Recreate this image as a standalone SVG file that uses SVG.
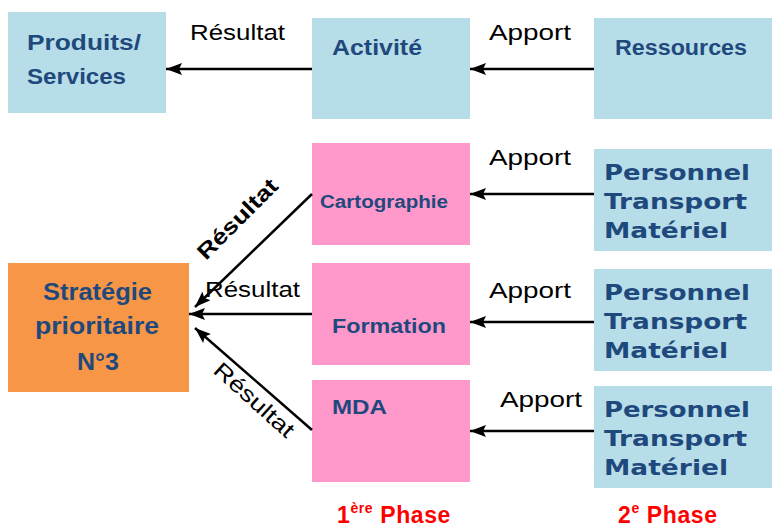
<svg xmlns="http://www.w3.org/2000/svg" width="772" height="528" viewBox="0 0 772 528">
<defs>
<marker id="a" viewBox="0 0 16 12" refX="16" refY="6" markerWidth="16" markerHeight="12" markerUnits="userSpaceOnUse" orient="auto">
<path d="M0,0 L16,6 L0,12 L3,6 z" fill="#000"/>
</marker>
</defs>
<style>
.blue{fill:#B7DDE8}
.pink{fill:#FF99CC}
.orange{fill:#F79646}
.t{font-family:"Liberation Sans",Arial,sans-serif;font-weight:bold;fill:#1F497D}
.v{font-family:"DejaVu Sans",Verdana,sans-serif;font-weight:bold;fill:#1F497D;font-size:21px}
.lbl{font-family:"Liberation Sans",Arial,sans-serif;font-size:22px;fill:#000}
.ph{font-family:"Liberation Sans",Arial,sans-serif;font-weight:bold;font-size:23px;fill:#FF0000;letter-spacing:0.6px}
.c{stroke:#000;stroke-width:2.5;fill:none;marker-end:url(#a)}
</style>
<rect width="772" height="528" fill="#fff"/>
<g id="produits"><rect class="blue" x="8" y="12" width="158" height="101"/><text class="t" font-size="22"><tspan x="27" y="50" textLength="114" lengthAdjust="spacingAndGlyphs">Produits/</tspan><tspan x="27" y="84" textLength="99" lengthAdjust="spacingAndGlyphs">Services</tspan></text></g>
<g id="activite"><rect class="blue" x="312" y="18" width="158" height="101"/><text class="t" font-size="22" x="332" y="55" textLength="90" lengthAdjust="spacingAndGlyphs">Activité</text></g>
<g id="ressources"><rect class="blue" x="594" y="18" width="180" height="101"/><text class="t" font-size="22" x="615" y="55" textLength="132" lengthAdjust="spacingAndGlyphs">Ressources</text></g>
<g id="cartographie"><rect class="pink" x="312" y="143" width="158" height="102"/><text class="t" font-size="18" x="320" y="208" textLength="128" lengthAdjust="spacingAndGlyphs">Cartographie</text></g>
<g id="formation"><rect class="pink" x="312" y="263" width="158" height="102"/><text class="t" font-size="21" x="332" y="333" textLength="114" lengthAdjust="spacingAndGlyphs">Formation</text></g>
<g id="mda"><rect class="pink" x="312" y="380" width="158" height="102"/><text class="t" font-size="21" x="332" y="414" textLength="55" lengthAdjust="spacingAndGlyphs">MDA</text></g>
<g id="res1"><rect class="blue" x="594" y="149" width="180" height="102"/><text class="v"><tspan x="604" y="180" textLength="146" lengthAdjust="spacingAndGlyphs">Personnel</tspan><tspan x="604" y="209" textLength="143" lengthAdjust="spacingAndGlyphs">Transport</tspan><tspan x="604" y="238" textLength="124" lengthAdjust="spacingAndGlyphs">Matériel</tspan></text></g>
<g id="res2"><rect class="blue" x="594" y="269" width="180" height="102"/><text class="v"><tspan x="604" y="300" textLength="146" lengthAdjust="spacingAndGlyphs">Personnel</tspan><tspan x="604" y="329" textLength="143" lengthAdjust="spacingAndGlyphs">Transport</tspan><tspan x="604" y="358" textLength="124" lengthAdjust="spacingAndGlyphs">Matériel</tspan></text></g>
<g id="res3"><rect class="blue" x="594" y="386" width="180" height="102"/><text class="v"><tspan x="604" y="417" textLength="146" lengthAdjust="spacingAndGlyphs">Personnel</tspan><tspan x="604" y="446" textLength="143" lengthAdjust="spacingAndGlyphs">Transport</tspan><tspan x="604" y="475" textLength="124" lengthAdjust="spacingAndGlyphs">Matériel</tspan></text></g>
<g id="strategie"><rect class="orange" x="8" y="263" width="181" height="129"/><text class="t" font-size="23"><tspan x="43" y="300" textLength="109" lengthAdjust="spacingAndGlyphs">Stratégie</tspan><tspan x="35" y="334" textLength="124" lengthAdjust="spacingAndGlyphs">prioritaire</tspan><tspan x="77" y="370" textLength="42" lengthAdjust="spacingAndGlyphs">N°3</tspan></text></g>
<g id="connectors">
<line class="c" x1="312" y1="69" x2="166" y2="69"/>
<line class="c" x1="594" y1="69" x2="470" y2="69"/>
<line class="c" x1="594" y1="194" x2="470" y2="194"/>
<line class="c" x1="594" y1="322" x2="470" y2="322"/>
<line class="c" x1="594" y1="431" x2="470" y2="431"/>
<line class="c" x1="312" y1="194" x2="195" y2="307"/>
<line class="c" x1="312" y1="314" x2="189" y2="314"/>
<line class="c" x1="312" y1="430" x2="195" y2="328"/>
</g>
<g id="labels">
<text class="lbl" x="190" y="40" textLength="95" lengthAdjust="spacingAndGlyphs">Résultat</text>
<text class="lbl" x="489" y="40" textLength="82" lengthAdjust="spacingAndGlyphs">Apport</text>
<text class="lbl" x="489" y="165" textLength="82" lengthAdjust="spacingAndGlyphs">Apport</text>
<text class="lbl" x="489" y="298" textLength="82" lengthAdjust="spacingAndGlyphs">Apport</text>
<text class="lbl" x="500" y="407" textLength="82" lengthAdjust="spacingAndGlyphs">Apport</text>
<text class="lbl" x="205" y="297" textLength="95" lengthAdjust="spacingAndGlyphs">Résultat</text>
<text class="lbl" font-weight="bold" transform="translate(206,261) rotate(-45)" textLength="104" lengthAdjust="spacingAndGlyphs">Résultat</text>
<text class="lbl" transform="translate(212,372) rotate(42)" textLength="100" lengthAdjust="spacingAndGlyphs">Résultat</text>
<text class="ph" x="337" y="523">1<tspan font-size="14" dy="-10">ère</tspan><tspan dy="10"> Phase</tspan></text>
<text class="ph" x="618" y="523">2<tspan font-size="14" dy="-10">e</tspan><tspan dy="10"> Phase</tspan></text>
</g>
</svg>
